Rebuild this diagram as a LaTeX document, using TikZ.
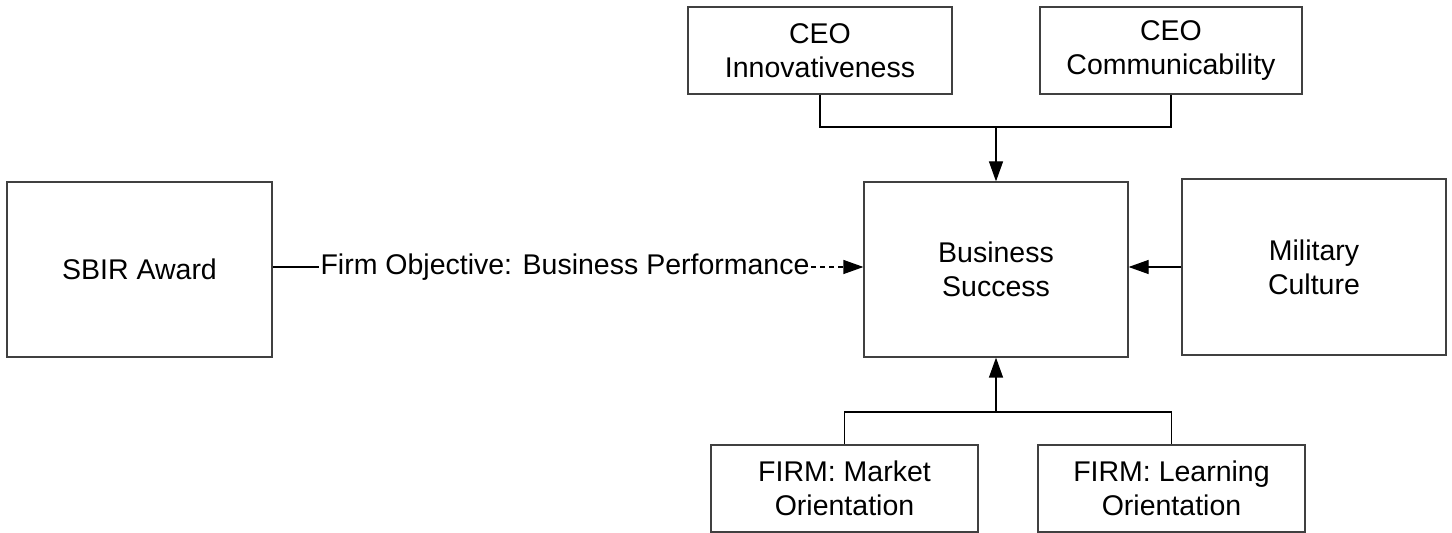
\documentclass[tikz,border=0pt]{standalone}
\usepackage{fontspec}
\setmainfont{Liberation Sans}
\usetikzlibrary{arrows.meta}

\begin{document}
\begin{tikzpicture}[x=1pt,y=1pt,line width=1.2pt,
  box/.style={draw=black!75,align=center,inner sep=0pt,font=\fontsize{28.5}{34}\selectfont},
  tip/.style={-{Triangle[length=20pt,width=14pt]}}]
\useasboundingbox (0,0) rectangle (1452,533);
\node[box,minimum width=265pt,minimum height=175pt] (sbir) at (139.5,263.5) {SBIR Award};
\node[box,minimum width=264pt,minimum height=175pt] (bs) at (996,263.5) {Business\\Success};
\node[box,minimum width=264pt,minimum height=176pt] (mil) at (1314,266) {Military\\Culture};
\node[box,minimum width=264pt,minimum height=87pt] (ceoi) at (820,482.5) {CEO\\Innovativeness};
\node[box,minimum width=262pt,minimum height=87pt] (ceoc) at (1171,482.5) {CEO\\Communicability};
\node[box,minimum width=267pt,minimum height=87pt] (firmm) at (844.5,44.5) {FIRM: Market\\Orientation};
\node[box,minimum width=267pt,minimum height=87pt] (firml) at (1171.5,44.5) {FIRM: Learning\\Orientation};
\node[font=\fontsize{28.5}{34}\selectfont,inner sep=1pt] (obj) at (565,266) {Firm Objective: Business Performance};
\coordinate (top) at (996,406);
\coordinate (bot) at (996,121);
\draw (ceoi.south) |- (top) -| (ceoc.south);
\draw[tip] (top) -- (bs.north);
\draw (firmm.north) |- (bot) -| (firml.north);
\draw[tip] (bot) -- (bs.south);
\draw[tip] (mil.west) -- (mil.west -| bs.east);
\draw (sbir.east |- obj.west) -- (obj.west);
\draw[tip,dash pattern=on 5pt off 4pt] (obj.east) -- (obj.east -| bs.west);
\end{tikzpicture}
\end{document}
